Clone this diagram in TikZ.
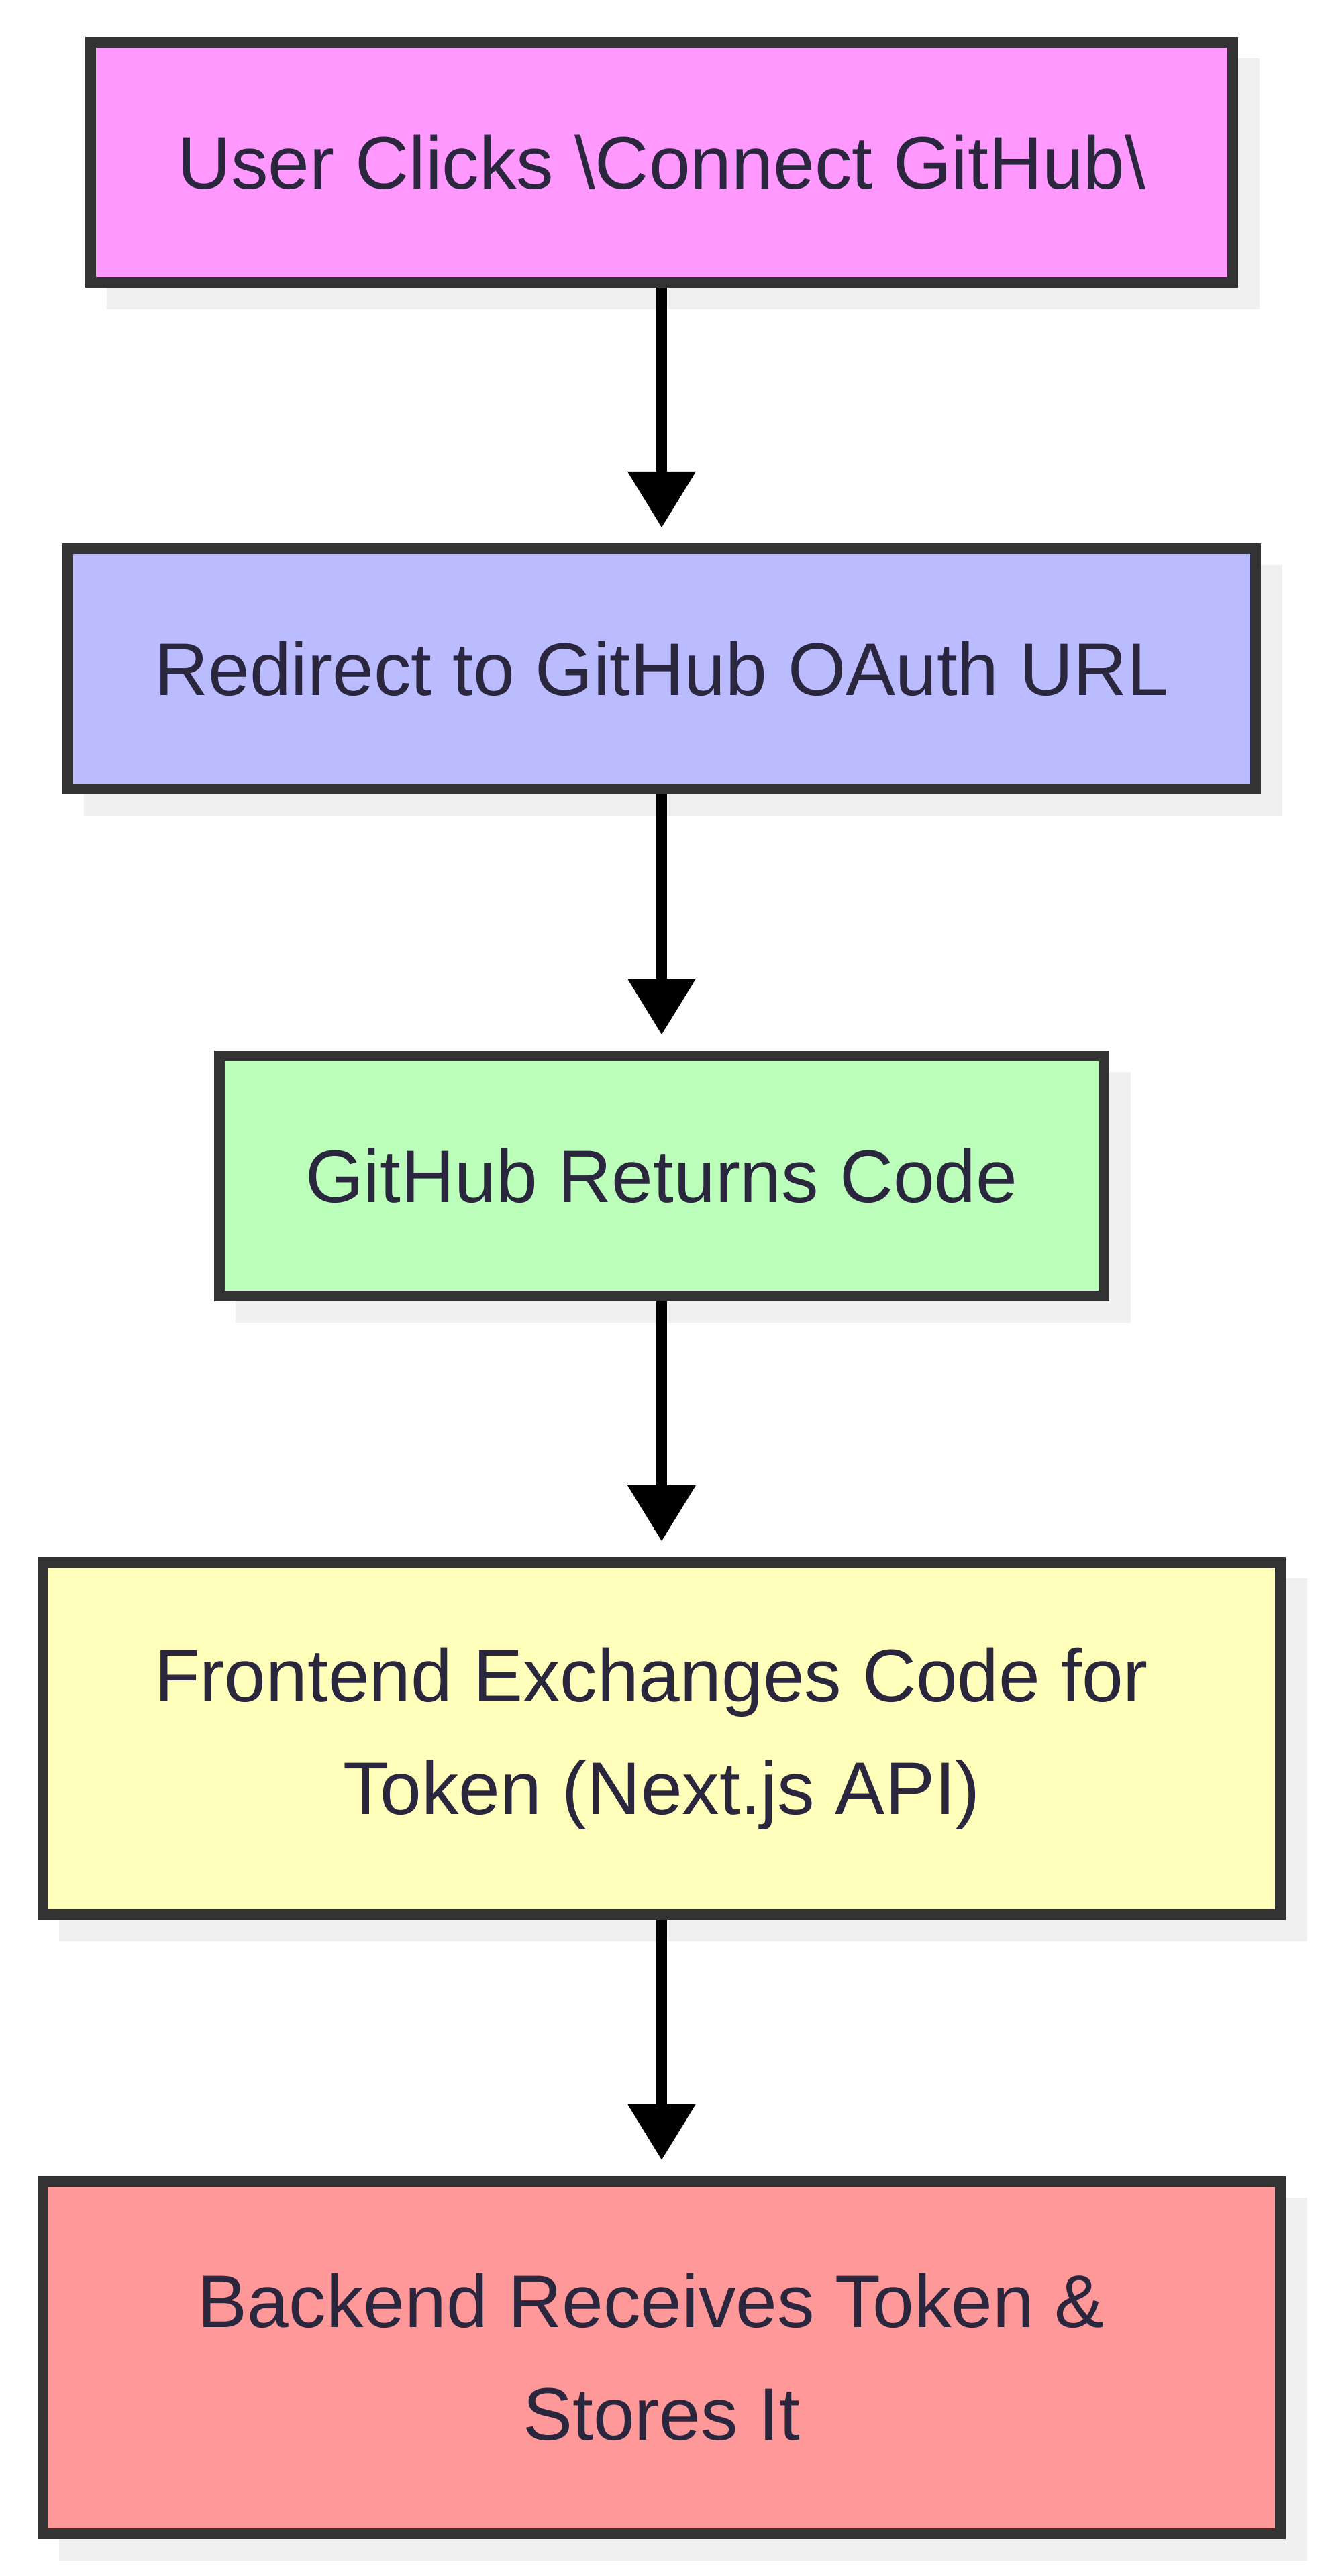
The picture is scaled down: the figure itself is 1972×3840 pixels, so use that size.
\documentclass[tikz,border=0pt]{standalone}
\usepackage{fontspec}
\setmainfont{Liberation Sans}
\usetikzlibrary{arrows.meta,backgrounds,calc}
\definecolor{strokec}{HTML}{333333}
\definecolor{textc}{RGB}{41,38,62}
\definecolor{shadowc}{HTML}{F0F0F0}
\definecolor{pinkc}{HTML}{FF99FF}
\definecolor{bluec}{HTML}{BBBBFF}
\definecolor{greenc}{HTML}{BBFFBB}
\definecolor{yellowc}{HTML}{FFFFBB}
\definecolor{redc}{HTML}{FF9999}
\newcommand{\trailsp}{\rule{0.278em}{0pt}}
\tikzset{
  stepbox/.style={draw=strokec, line width=4pt, outer sep=2pt, inner sep=0pt,
    rectangle, align=center, text=textc,
    font=\fontsize{27.75pt}{42pt}\selectfont},
  smallbox/.style={stepbox, minimum height=89.5pt},
  bigbox/.style={stepbox, minimum height=131.25pt},
  conn/.style={draw=black, line width=4pt, shorten >=6pt,
    -{Triangle[length=20.75pt,width=25.5pt,line width=0pt]}},
  shadowbox/.style={fill=shadowc}
}
\begin{document}
\begin{tikzpicture}[x=0.25pt,y=-0.25pt]
\useasboundingbox (0,0) rectangle (1972,3840);
\node[smallbox, fill=pinkc, minimum width=425.5pt] (n1) at (986,242) {User Clicks \textbackslash Connect GitHub\textbackslash};
\node[smallbox, fill=bluec, minimum width=442.5pt] (n2) at (986,997) {Redirect to GitHub OAuth URL};
\node[smallbox, fill=greenc, minimum width=329.5pt] (n3) at (986,1753) {GitHub Returns Code};
\node[bigbox, fill=yellowc, minimum width=461pt] (n4) at (986,2591.5) {Frontend Exchanges Code for\trailsp\\Token (Next.js API)};
\node[bigbox, fill=redc, minimum width=461pt] (n5) at (986,3514) {Backend Receives Token \&\trailsp\\Stores It};
\begin{pgfonlayer}{background}
\fill[white] (0,0) rectangle (1972,3840);
\foreach \n in {n1,n2,n3,n4,n5}{
  \fill[shadowbox] ([shift={(32,32)}]\n.south west) rectangle ([shift={(32,32)}]\n.north east);
}
\end{pgfonlayer}
\draw[conn] (n1.south) -- (n2.north);
\draw[conn] (n2.south) -- (n3.north);
\draw[conn] (n3.south) -- (n4.north);
\draw[conn] (n4.south) -- (n5.north);
\end{tikzpicture}
\end{document}
